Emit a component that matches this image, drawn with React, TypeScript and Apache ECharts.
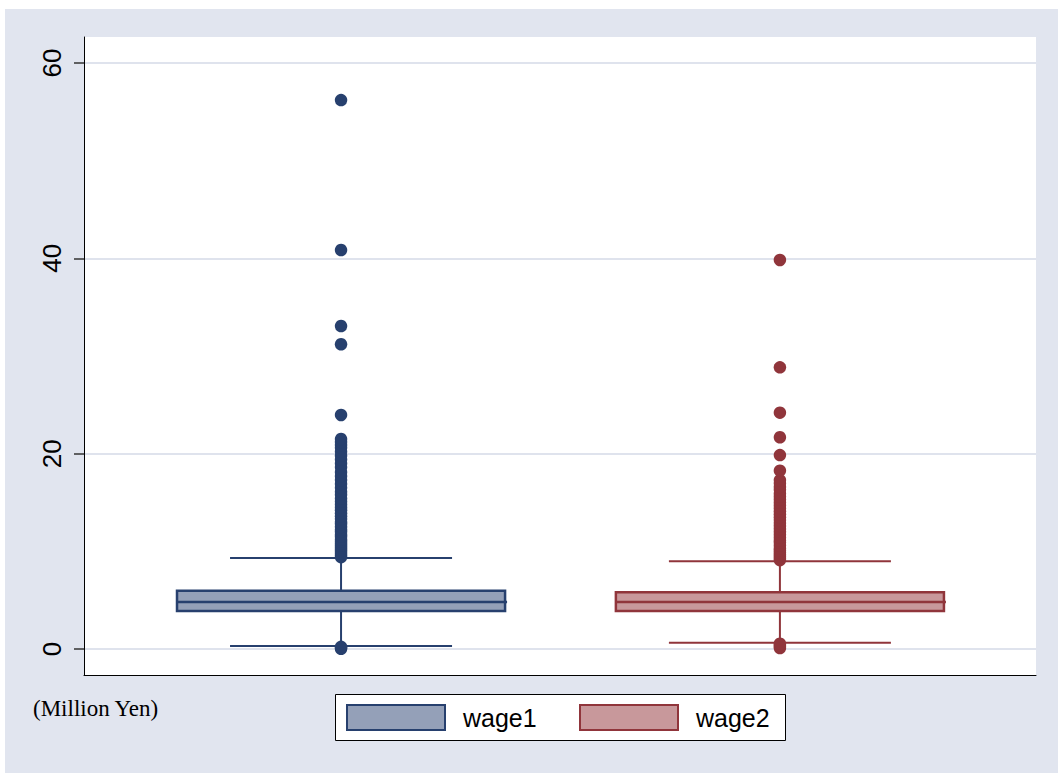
import React, { useEffect, useRef } from "react";
import * as echarts from "echarts";

// ---------- data ----------
const seriesNames = ["wage1", "wage2"];
// [lower whisker, Q1, median, Q3, upper whisker]
const wage1Box = [0.31, 3.89, 4.81, 5.97, 9.32];
const wage2Box = [0.645, 3.89, 4.81, 5.8, 8.98];
const wage1Outliers = [
  0.02, 0.12, 0.22,
  9.4, 9.6, 9.8, 10.0, 10.2, 10.4, 10.6, 10.8, 11.0, 11.2, 11.5, 11.7, 12.0, 12.2,
  12.5, 12.8, 13.0, 13.3, 13.6, 13.9, 14.2, 14.5, 14.8, 15.1, 15.4, 15.8, 16.1,
  16.5, 16.9, 17.3, 17.7, 18.1, 18.6, 19.0, 19.4, 19.8, 20.2, 20.6, 20.9, 21.2, 21.5,
  23.96, 31.2, 33.07, 40.85, 56.2,
];
const wage2Outliers = [
  0.1, 0.25, 0.4, 0.55,
  9.1, 9.3, 9.5, 9.7, 9.9, 10.1, 10.3, 10.6, 10.9, 11.1, 11.4, 11.7, 12.0, 12.3,
  12.6, 12.9, 13.2, 13.5, 13.8, 14.1, 14.4, 14.7, 15.0, 15.3, 15.6, 15.9, 16.3,
  16.6, 16.96, 17.3, 18.26, 19.86, 21.68, 24.2, 28.84, 39.83,
];
const yTicks = [0, 20, 40, 60];
const unitNote = "(Million Yen)";

// ---------- styles / layout ----------
const BG = "#e1e5ef";
const GRIDLINE = "#dfe3ed";
const NAVY = "#27406e";
const NAVY_FILL = "#94a0b8";
const MAROON = "#90353b";
const MAROON_FILL = "#c8989b";
const X_POS = [0.27, 0.731];
const BOX_HALF = 0.1723;
const CAP_HALF = 0.1166;

const boxes = [
  { name: seriesNames[0], stats: wage1Box, stroke: NAVY, fill: NAVY_FILL, x: X_POS[0] },
  { name: seriesNames[1], stats: wage2Box, stroke: MAROON, fill: MAROON_FILL, x: X_POS[1] },
];
const outlierSets = [
  { name: seriesNames[0], values: wage1Outliers, color: NAVY, x: X_POS[0] },
  { name: seriesNames[1], values: wage2Outliers, color: MAROON, x: X_POS[1] },
];

export default function App() {
  const ref = useRef<HTMLDivElement>(null);

  useEffect(() => {
    if (!ref.current) return;
    const chart = echarts.init(ref.current, undefined, { renderer: "svg" });

    const boxSeries = boxes.map((b) => ({
      type: "custom",
      name: b.name,
      z: 3,
      data: [[b.x, ...b.stats]],
      renderItem: (params: any, api: any) => {
        const x = api.value(0);
        const lo = api.coord([x, api.value(1)]);
        const q1 = api.coord([x, api.value(2)]);
        const med = api.coord([x, api.value(3)]);
        const q3 = api.coord([x, api.value(4)]);
        const hi = api.coord([x, api.value(5)]);
        const cx = lo[0];
        const bh = api.size([BOX_HALF, 0])[0];
        const ch = api.size([CAP_HALF, 0])[0];
        const line = { stroke: b.stroke, lineWidth: 2 };
        return {
          type: "group",
          children: [
            { type: "line", shape: { x1: cx, y1: q3[1], x2: cx, y2: hi[1] }, style: line },
            { type: "line", shape: { x1: cx, y1: q1[1], x2: cx, y2: lo[1] }, style: line },
            { type: "line", shape: { x1: cx - ch, y1: hi[1], x2: cx + ch, y2: hi[1] }, style: line },
            { type: "line", shape: { x1: cx - ch, y1: lo[1], x2: cx + ch, y2: lo[1] }, style: line },
            {
              type: "rect",
              shape: { x: cx - bh, y: q3[1], width: 2 * bh, height: q1[1] - q3[1] },
              style: { fill: b.fill, stroke: b.stroke, lineWidth: 2.5 },
            },
            { type: "line", shape: { x1: cx - bh, y1: med[1], x2: cx + bh + 2, y2: med[1] }, style: { stroke: b.stroke, lineWidth: 2.5 } },
          ],
        };
      },
    }));

    const outlierSeries = outlierSets.map((o) => ({
      type: "scatter",
      name: o.name,
      z: 5,
      symbol: "circle",
      symbolSize: 12.5,
      itemStyle: { color: o.color, opacity: 1 },
      data: o.values.map((v) => [o.x, v]),
    }));

    const option: any = {
      animation: false,
      backgroundColor: "#ffffff",
      grid: {
        left: 84,
        right: 22,
        top: 37,
        bottom: 98,
        show: true,
        backgroundColor: "#ffffff",
        borderWidth: 0,
      },
      xAxis: {
        type: "value",
        min: 0,
        max: 1,
        axisLine: { show: true, onZero: false, lineStyle: { color: "#000", width: 1 } },
        axisTick: { show: false },
        axisLabel: { show: false },
        splitLine: { show: false },
      },
      yAxis: {
        type: "value",
        min: -2.66,
        max: 62.66,
        axisLine: { show: true, lineStyle: { color: "#000", width: 1 } },
        axisTick: { show: true, length: 10, customValues: yTicks, lineStyle: { color: "#333", width: 1.5 } },
        axisLabel: {
          customValues: yTicks,
          rotate: 90,
          fontSize: 26,
          color: "#000",
          margin: 19,
          fontFamily: "Liberation Sans, Arial, sans-serif",
        },
        splitLine: { show: true, lineStyle: { color: GRIDLINE, width: 2 } },
      },
      series: [...boxSeries, ...outlierSeries],
      graphic: [
        {
          type: "rect",
          z: -10,
          silent: true,
          shape: { x: 5, y: 9, width: 1053, height: 764 },
          style: { fill: BG },
        },
        {
          type: "text",
          z: 10,
          x: 33,
          y: 708,
          style: {
            text: unitNote,
            fill: "#000",
            font: "23px 'Liberation Serif', 'Times New Roman', serif",
            verticalAlign: "middle",
          },
        },
        {
          type: "rect",
          z: 10,
          shape: { x: 335.5, y: 694.5, width: 450, height: 46 },
          style: { fill: "#fff", stroke: "#000", lineWidth: 1 },
        },
        {
          type: "rect",
          z: 11,
          shape: { x: 347, y: 705, width: 98, height: 25 },
          style: { fill: NAVY_FILL, stroke: NAVY, lineWidth: 2 },
        },
        {
          type: "text",
          z: 11,
          x: 463,
          y: 718,
          style: {
            text: seriesNames[0],
            fill: "#000",
            font: "25px 'Liberation Sans', Arial, sans-serif",
            verticalAlign: "middle",
          },
        },
        {
          type: "rect",
          z: 11,
          shape: { x: 580, y: 705, width: 98, height: 25 },
          style: { fill: MAROON_FILL, stroke: MAROON, lineWidth: 2 },
        },
        {
          type: "text",
          z: 11,
          x: 696,
          y: 718,
          style: {
            text: seriesNames[1],
            fill: "#000",
            font: "25px 'Liberation Sans', Arial, sans-serif",
            verticalAlign: "middle",
          },
        },
      ],
    };

    chart.setOption(option);
    return () => chart.dispose();
  }, []);

  return (
    <div
      ref={ref}
      style={{ position: "absolute", left: 0, top: 0, width: 1058, height: 773 }}
    />
  );
}
